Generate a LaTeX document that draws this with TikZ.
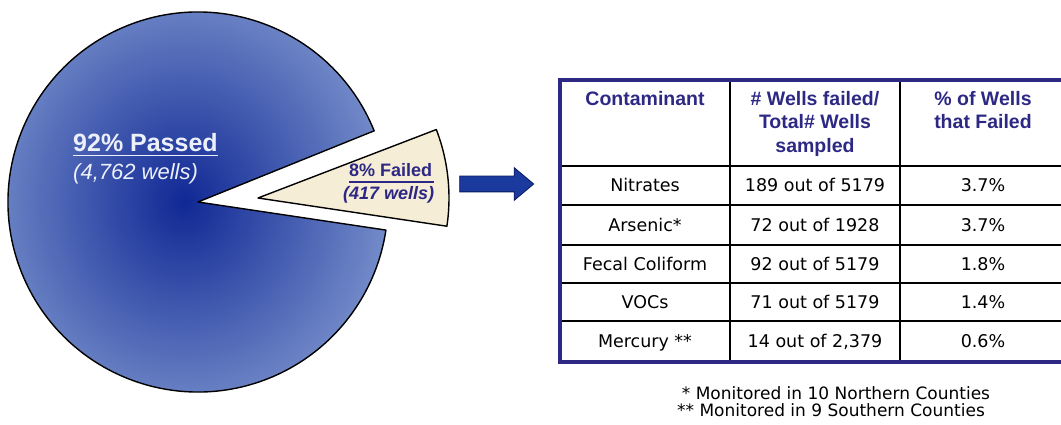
\documentclass[tikz,border=0pt]{standalone}
\usepackage{fontspec}
\setmainfont{Liberation Sans}
\newfontfamily\cellfont{DejaVu Sans}
\usetikzlibrary{shapes, positioning, calc}
\definecolor{piedark}{RGB}{16,40,148}
\definecolor{pielight}{RGB}{114,138,200}
\definecolor{pietext}{RGB}{236,240,250}
\definecolor{wedgefill}{RGB}{246,237,214}
\definecolor{tablenavy}{RGB}{44,40,132}
\definecolor{arrowblue}{RGB}{26,58,158}
\definecolor{arrowedge}{RGB}{12,26,92}
\tikzset{pieslice/.style = {
  % Wedge:
  draw=black, line width=1.4pt, line join=round,
  inner color=piedark, outer color=pielight
  }}
\tikzset{failslice/.style = {
  % Wedge:
  draw=black, line width=1.4pt, line join=round,
  fill=wedgefill
  }}
\tikzset{pielabel/.style = {
  % Text:
  inner sep=0pt, anchor=base west, text=pietext
  }}
\tikzset{faillabel/.style = {
  % Text:
  inner sep=0pt, anchor=base west, text=tablenavy
  }}
\tikzset{blockarrow/.style = {
  single arrow, draw=arrowedge, fill=arrowblue, line width=0.8pt,
  inner xsep=0pt, inner ysep=7.5pt,
  minimum height=74pt, single arrow head extend=8.5pt,
  single arrow tip angle=80
  }}
\tikzset{headcell/.style = {
  % Text:
  font=\fontsize{19.5}{23.5}\selectfont\bfseries,
  text=tablenavy, align=center, inner sep=0pt, anchor=north
  }}
\tikzset{bodycell/.style = {
  % Text:
  font=\cellfont\fontsize{17.5}{20}\selectfont,
  inner sep=0pt, anchor=base
  }}
\tikzset{notecell/.style = {
  font=\cellfont\fontsize{17}{17}\selectfont,
  inner sep=0pt, anchor=base
  }}
\tikzset{cellrule/.style = {draw=black, line width=1.2pt}}
\tikzset{tableframe/.style = {draw=tablenavy, line width=4pt}}

\begin{document}
\begin{tikzpicture}[x=1pt, y=1pt]
  \useasboundingbox (0,0) rectangle (1061,-425);
  %
  % Pie
  %
  \coordinate (pc) at (198,-202);
  \coordinate (fc) at (258,-198);
  \shadedraw [pieslice] (pc) -- ++(22:190) arc[start angle=22, end angle=351.5, radius=190] -- cycle;
  \filldraw [failslice] (fc) -- ++(21:191) arc[start angle=21, end angle=-8.5, radius=191] -- cycle;

  \node (passed) [pielabel, font=\fontsize{25}{30}\selectfont\bfseries] at (73,-152) {92\% Passed};
  \node (passedcount) [pielabel, font=\fontsize{22}{26}\selectfont\itshape] at (73,-179) {(4,762 wells)};
  \draw [pietext, line width=1.8pt] ($(passed.base west)+(0,-3.5)$) -- ($(passed.base east)+(0,-3.5)$);

  \node (failed) [faillabel, font=\fontsize{18}{21}\selectfont\bfseries] at (349,-177) {8\% Failed};
  \node (failedcount) [faillabel, font=\fontsize{18}{21}\selectfont\bfseries\itshape] at (343,-200) {(417 wells)};
  \draw [tablenavy, line width=1.4pt] ($(failed.base west)+(0,-5)$) -- ($(failed.base east)+(2,-5)$);

  \node (totable) [blockarrow] at (492,-184) {};
  %
  % Table
  %
  \foreach \x in {730,900}
    \draw [cellrule] (\x,-80) -- (\x,-362);
  \foreach \y in {166,205,245,283,321}
    \draw [cellrule] (560,-\y) -- (1066,-\y);
  \draw [tableframe] (560,-80) rectangle (1066,-362);

  \node (colname) [headcell] at (645,-91) {Contaminant};
  \node (colcount) [headcell] at (815,-91) {\# Wells failed/\\Total\# Wells\\sampled};
  \node (colshare) [headcell] at (983,-91) {\% of Wells\\that Failed};

  \foreach \y/\cname/\ccount/\cshare [count=\r] in {
      192/Nitrates/189 out of 5179/3.7\%,
      231/Arsenic*/72 out of 1928/3.7\%,
      270/Fecal Coliform/92 out of 5179/1.8\%,
      308/VOCs/71 out of 5179/1.4\%,
      347/Mercury **/14 out of 2{,}379/0.6\%} {
    \node (name-\r) [bodycell] at (645,-\y) {\cname};
    \node (count-\r) [bodycell] at (815,-\y) {\ccount};
    \node (share-\r) [bodycell] at (983,-\y) {\cshare};
  }

  \node (note1) [notecell] at (836,-399) {* Monitored in 10 Northern Counties};
  \node (note2) [notecell] at (831,-416) {** Monitored in 9 Southern Counties};
\end{tikzpicture}
\end{document}
